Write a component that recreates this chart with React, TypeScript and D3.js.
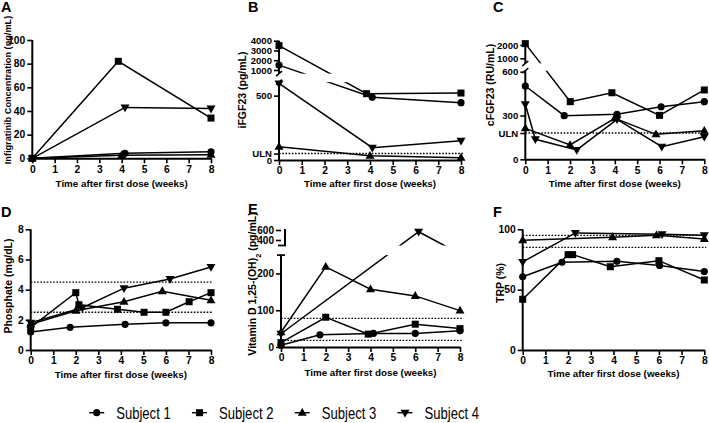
import React, { useEffect, useRef } from 'react';
import * as d3 from 'd3';

const FONT = 'Liberation Sans, Arial, Helvetica, sans-serif';

const subjects = ['Subject 1', 'Subject 2', 'Subject 3', 'Subject 4'];
const weekTicks = [0, 1, 2, 3, 4, 5, 6, 7, 8];
const xTitle = 'Time after first dose (weeks)';

// A - infigratinib concentration (ng/mL)
const infigWeeks = [[0, 4.15, 8], [0, 3.85, 8], [0, 4, 8], [0, 4.15, 8]];
const infigValues = [[0, 4.2, 5.5], [0, 82, 34], [0, 2.5, 3], [0, 43, 42]];
const infigTicks = [0, 20, 40, 60, 80, 100];

// B - iFGF23 (pg/mL)
const ifgfWeeks = [[0, 4.1, 8], [0, 3.85, 8], [0, 4, 8], [0, 4.1, 8]];
const ifgfValues = [[1500, 487, 445], [3500, 515, 520], [103, 33, 18], [595, 96, 150]];
const ifgfTicks = [0, 50, 500, 1000, 2000, 3000, 4000];
const ifgfLabels = ['0', 'ULN', '500', '1000', '2000', '3000', '4000'];
const ifgfUln = [50];

// C - cFGF23 (RU/mL)
const cfgfWeeks = [
  [0, 1.74, 4.1, 6.07, 8],
  [0, 2.01, 3.87, 6, 8],
  [0, 2, 4, 5.84, 8],
  [0, 0.45, 2.3, 4.1, 6.1, 8],
];
const cfgfValues = [
  [502, 299, 308, 360, 395],
  [2100, 395, 456, 301, 475],
  [212, 98, 281, 171, 196],
  [377, 137, 64, 274, 86, 155],
];
const cfgfTicks = [0, 180, 300, 600, 1000, 2000];
const cfgfLabels = ['0', 'ULN', '300', '600', '1000', '2000'];
const cfgfUln = [180];

// D - phosphate (mg/dL)
const phosWeeks = [
  [0, 1.75, 4.19, 6, 8],
  [0, 2, 2.14, 3.85, 5.03, 6, 7.03, 8],
  [0, 2, 4.14, 5.84, 8],
  [0, 2.29, 4.14, 6.18, 8],
];
const phosValues = [
  [1.2, 1.5, 1.7, 1.8, 1.8],
  [1.5, 3.8, 3.0, 2.7, 2.5, 2.5, 3.2, 3.8],
  [1.7, 2.6, 3.2, 3.9, 3.3],
  [1.8, 2.8, 4.1, 4.7, 5.5],
];
const phosTicks = [0, 2, 4, 6, 8];
const phosRange = [2.5, 4.5];

// E - 1,25-(OH)2 vitamin D (pg/mL)
const vitdWeeks = [[0, 1.74, 4.13, 6, 8], [0, 2, 3.9, 6, 8], [0, 2, 4, 6, 8], [0, 6.15, 8]];
const vitdValues = [[5, 33, 37, 37, 44], [12, 81, 35, 62, 50], [40, 218, 157, 139, 99], [36, 565, 255]];
const vitdTicks = [0, 100, 200, 400, 600];
const vitdRange = [18, 78];

// F - TRP (%)
const trpWeeks = [[0, 1.73, 4.15, 6.03, 8], [0, 2.0, 2.2, 3.86, 6, 8], [0, 3.96, 5.89, 8], [0, 2.32, 6.14, 8]];
const trpValues = [[60.7, 72.7, 73.5, 70, 65], [42, 79, 79, 69, 74, 58], [91, 93.5, 95, 92], [73, 97, 96, 95]];
const trpTicks = [0, 50, 100];
const trpRange = [85, 95];

const marker = (g, kind, x, y) => {
  if (kind === 0) {
    g.append('circle').attr('cx', x).attr('cy', y).attr('r', 3.6).attr('fill', '#000');
  } else if (kind === 1) {
    g.append('rect').attr('x', x - 3.5).attr('y', y - 3.5).attr('width', 7).attr('height', 7).attr('fill', '#000');
  } else {
    const s = kind === 2 ? 1 : -1;
    const pts = [[x, y - 4.8 * s], [x - 4.5, y + 3 * s], [x + 4.5, y + 3 * s]];
    g.append('polygon').attr('points', pts.map((p) => p.join(',')).join(' ')).attr('fill', '#000');
  }
};

const hline = (g, x1, x2, y, w) => {
  g.append('line').attr('x1', x1).attr('x2', x2).attr('y1', y).attr('y2', y).attr('stroke', '#000').attr('stroke-width', w);
};

const drawPanel = (svg, p) => {
  const x = d3.scaleLinear().domain([0, 8]).range([p.x0, p.x8]);
  const y = d3.scaleLinear().domain(p.yDomain).range(p.yRange);
  const g = svg.append('g');

  // normal range / ULN
  p.refs.forEach((v) => {
    g.append('line')
      .attr('x1', x(0)).attr('x2', x(8) + 2)
      .attr('y1', y(v)).attr('y2', y(v))
      .attr('stroke', '#000').attr('stroke-width', 1.4).attr('stroke-dasharray', '1.6,1.6');
  });

  const line = d3.line();
  p.weeks.forEach((wk, i) => {
    const pts = wk.map((w, j) => [x(w), y(p.values[i][j])]);
    g.append('path').attr('d', line(pts)).attr('fill', 'none').attr('stroke', '#000').attr('stroke-width', 1.5);
  });

  // hide the lines inside the axis break
  if (p.gap) {
    g.append('rect')
      .attr('x', x(0) + 1).attr('y', y(p.gap[1]))
      .attr('width', x(8) - x(0) + 8).attr('height', y(p.gap[0]) - y(p.gap[1]))
      .attr('fill', '#fff');
  }

  p.weeks.forEach((wk, i) =>
    wk.forEach((w, j) => {
      const v = p.values[i][j];
      if (p.gap && v > p.gap[0] && v < p.gap[1]) return;
      marker(g, i, x(w), y(v));
    })
  );

  // x axis
  const xa = g.append('g')
    .attr('transform', `translate(0,${y(0)})`)
    .call(d3.axisBottom(x).tickValues(weekTicks).tickSize(5).tickSizeOuter(0).tickPadding(2).tickFormat(d3.format('d')));
  xa.select('.domain').attr('stroke-width', 2);
  xa.selectAll('.tick line').attr('stroke-width', 1.6);
  xa.selectAll('text').attr('font-family', FONT).attr('font-size', 10.3).attr('font-weight', 'bold').attr('fill', '#000');

  // y axis
  const ya = g.append('g')
    .attr('transform', `translate(${x(0)},0)`)
    .call(d3.axisLeft(y).tickValues(p.yTicks).tickSize(5).tickPadding(2)
      .tickFormat((d, i) => (p.yLabels ? p.yLabels[i] : String(d))));
  ya.select('.domain').remove();
  ya.selectAll('.tick line').attr('stroke-width', 1.6);
  ya.selectAll('text').attr('font-family', FONT).attr('font-size', p.yTickSize).attr('font-weight', 'bold').attr('fill', '#000');

  p.segments.forEach((s, k) => {
    const off = p.breakStyle === 'bracket' && k === 1 ? 4 : 0;
    g.append('line')
      .attr('x1', x(0) + off).attr('x2', x(0) + off)
      .attr('y1', y(s[0]) + (k === 0 ? 1 : 0)).attr('y2', y(s[1]))
      .attr('stroke', '#000').attr('stroke-width', 2);
  });
  if (p.gap) {
    const yb = y(p.gap[1]);
    const yt = y(p.gap[0]);
    if (p.breakStyle === 'bracket') {
      hline(g, x(0) - 3, x(0) + 5, yb, 1.7);
      hline(g, x(0) - 4, x(0) + 4, yt, 1.7);
    } else {
      [yb, yt].forEach((yy) => {
        g.append('line')
          .attr('x1', x(0) - 3).attr('x2', x(0) + 3)
          .attr('y1', yy + 2.5).attr('y2', yy - 2.5)
          .attr('stroke', '#000').attr('stroke-width', 1.5);
      });
    }
  }

  // titles
  g.append('text')
    .attr('x', (x(0) + x(8)) / 2).attr('y', p.xTitleY)
    .attr('text-anchor', 'middle').attr('font-family', FONT).attr('font-size', 9.8).attr('font-weight', 'bold')
    .text(xTitle);

  const yt = g.append('text')
    .attr('transform', `translate(${p.yTitleX},${p.yTitleY}) rotate(-90)`)
    .attr('text-anchor', 'middle').attr('font-family', FONT).attr('font-size', p.yTitleSize).attr('font-weight', 'bold');
  if (p.yTitleParts) {
    p.yTitleParts.forEach((part) => {
      const ts = yt.append('tspan').text(part[0]);
      if (part[1]) ts.attr('font-size', p.yTitleSize * 0.7).attr('baseline-shift', 'sub');
    });
  } else {
    yt.text(p.yTitle);
  }

  g.append('text')
    .attr('x', p.letter[1]).attr('y', p.letter[2])
    .attr('font-family', FONT).attr('font-size', 14.5).attr('font-weight', 'bold')
    .text(p.letter[0]);
};

const App = () => {
  const ref = useRef(null);

  useEffect(() => {
    if (!ref.current) return;
    const svg = d3.select(ref.current);
    svg.selectAll('*').remove();

    const panels = [
      {
        letter: ['A', 1, 12],
        x0: 32.3, x8: 211,
        yDomain: [0, 100], yRange: [158.3, 40],
        yTicks: infigTicks, yTickSize: 10.3, segments: [[0, 100]],
        weeks: infigWeeks, values: infigValues, refs: [],
        xTitleY: 186.5,
        yTitle: 'Infigratinib Concentration  (ng/mL)', yTitleX: 10.5, yTitleY: 90, yTitleSize: 9.2,
      },
      {
        letter: ['B', 248, 12],
        x0: 279, x8: 461,
        yDomain: [0, 605, 620, 4000], yRange: [160, 82.1, 73.7, 40.7],
        yTicks: ifgfTicks, yLabels: ifgfLabels, yTickSize: 9.6,
        segments: [[0, 605], [620, 4000]], gap: [605, 620], breakStyle: 'slash',
        weeks: ifgfWeeks, values: ifgfValues, refs: ifgfUln,
        xTitleY: 186.5,
        yTitle: 'iFGF23 (pg/mL)', yTitleX: 246, yTitleY: 90, yTitleSize: 10.5,
      },
      {
        letter: ['C', 493, 12],
        x0: 525.3, x8: 704.3,
        yDomain: [0, 607, 624, 2170], yRange: [159.3, 70.7, 63.3, 42.7],
        yTicks: cfgfTicks, yLabels: cfgfLabels, yTickSize: 9.6,
        segments: [[0, 607], [624, 2170]], gap: [607, 624], breakStyle: 'slash',
        weeks: cfgfWeeks, values: cfgfValues, refs: cfgfUln,
        xTitleY: 186.5,
        yTitle: 'cFGF23 (RU/mL)', yTitleX: 494, yTitleY: 85, yTitleSize: 10.5,
      },
      {
        letter: ['D', 1, 217],
        x0: 30.7, x8: 211,
        yDomain: [0, 8], yRange: [350, 229.3],
        yTicks: phosTicks, yTickSize: 10.3, segments: [[0, 8]],
        weeks: phosWeeks, values: phosValues, refs: phosRange,
        xTitleY: 377.5,
        yTitle: 'Phosphate (mg/dL)', yTitleX: 11.5, yTitleY: 286, yTitleSize: 10.5,
      },
      {
        letter: ['E', 248, 213.5],
        x0: 281, x8: 460,
        yDomain: [0, 250, 290, 620], yRange: [347, 255.1, 245.5, 229],
        yTicks: vitdTicks, yTickSize: 10, segments: [[0, 250], [290, 620]], gap: [250, 290], breakStyle: 'bracket',
        weeks: vitdWeeks, values: vitdValues, refs: vitdRange,
        xTitleY: 375.5,
        yTitleParts: [['Vitamin  D 1,25-(OH)'], ['2', true], [' (pg/mL)']],
        yTitleX: 256, yTitleY: 284, yTitleSize: 10.5,
      },
      {
        letter: ['F', 493, 216.5],
        x0: 522.7, x8: 704.3,
        yDomain: [0, 100], yRange: [350, 229.3],
        yTicks: trpTicks, yTickSize: 10.3, segments: [[0, 100]],
        weeks: trpWeeks, values: trpValues, refs: trpRange,
        xTitleY: 376.5,
        yTitle: 'TRP (%)', yTitleX: 503.5, yTitleY: 283, yTitleSize: 10.5,
      },
    ];

    panels.forEach((p) => drawPanel(svg, p));

    // legend
    const lx = d3.scaleLinear().domain([0, 3]).range([96.7, 405]);
    const ly = 412.7;
    const lg = svg.append('g');
    subjects.forEach((s, i) => {
      hline(lg, lx(i) - 7.5, lx(i) + 7.5, ly, 1.4);
      marker(lg, i, lx(i), ly);
      lg.append('text')
        .attr('x', lx(i) + 19.5).attr('y', ly + 6)
        .attr('font-family', FONT).attr('font-size', 17)
        .attr('textLength', 54.5).attr('lengthAdjust', 'spacingAndGlyphs')
        .text(s);
    });
  }, []);

  return (
    <svg
      ref={ref}
      width={709}
      height={423}
      style={{ position: 'absolute', left: 0, top: 0, background: '#fff' }}
    />
  );
};

export default App;
